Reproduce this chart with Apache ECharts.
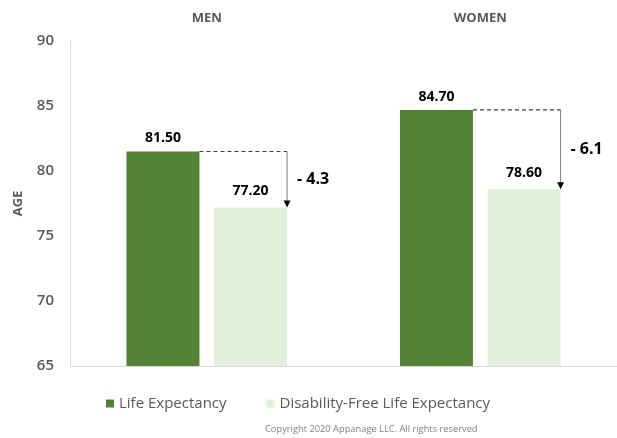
<!DOCTYPE html>
<html>
<head>
<meta charset="utf-8">
<script src="https://cdn.jsdelivr.net/npm/echarts@6/dist/echarts.min.js"></script>
<style>html,body{margin:0;padding:0;background:#fff}#c{width:617px;height:438px}</style>
</head>
<body>
<div id="c"></div>
<script>
const categories = ['MEN', 'WOMEN'];
const lifeExpectancy = [81.5, 84.7];
const disabilityFree = [77.2, 78.6];
const yTicks = [65, 70, 75, 80, 85, 90];
const seriesNames = ['Life Expectancy', 'Disability-Free Life Expectancy'];

const FONT = 'Open Sans, Lato, sans-serif';
const BAR_W = 73;
const GAP_RATIO = 0.2;
const chart = echarts.init(document.getElementById('c'));

const annoData = categories.map((c, i) => [i, lifeExpectancy[i], disabilityFree[i]]);

chart.setOption({
  animation: false,
  backgroundColor: '#fff',
  textStyle: { fontFamily: FONT },
  grid: { left: 70, right: 0, top: 41, bottom: 72 },
  legend: {
    bottom: 22, left: 101,
    itemWidth: 8, itemHeight: 8, itemGap: 40,
    icon: 'rect',
    textStyle: { fontFamily: FONT, fontSize: 15, color: '#595959' },
    data: seriesNames
  },
  graphic: [{
    type: 'text', left: 265, top: 425,
    style: { text: 'Copyright 2020 Appanage LLC. All rights reserved', fontSize: 9.3, fill: '#7f7f7f', fontFamily: FONT }
  }],
  xAxis: [{
    type: 'category', data: categories, position: 'top',
    axisLine: { show: false }, axisTick: { show: false },
    axisLabel: { fontSize: 13, fontWeight: 'bold', color: '#595959', margin: 16, fontFamily: FONT }
  }, {
    type: 'category', data: categories, position: 'bottom',
    axisLine: { show: true, lineStyle: { color: '#d9d9d9' } },
    axisTick: { show: false }, axisLabel: { show: false }
  }],
  yAxis: {
    type: 'value', min: yTicks[0], max: yTicks[yTicks.length - 1], interval: 5,
    name: 'AGE', nameLocation: 'middle', nameGap: 45, nameRotate: 90,
    nameTextStyle: { fontSize: 13, fontWeight: 'bold', color: '#595959', fontFamily: FONT },
    axisLine: { show: true, lineStyle: { color: '#d9d9d9' } },
    axisTick: { show: false },
    splitLine: { show: false },
    axisLabel: { fontSize: 15, fontWeight: 600, color: '#595959', margin: 16, fontFamily: FONT }
  },
  series: [{
    name: seriesNames[0], type: 'bar', data: lifeExpectancy,
    barWidth: BAR_W, barGap: (GAP_RATIO * 100) + '%',
    itemStyle: { color: '#548235' },
    label: { show: true, position: 'top', distance: 6, formatter: p => p.value.toFixed(2),
      fontSize: 14, fontWeight: 'bold', color: '#000', fontFamily: FONT }
  }, {
    name: seriesNames[1], type: 'bar', data: disabilityFree,
    barWidth: BAR_W,
    itemStyle: { color: '#e2efda' },
    label: { show: true, position: 'top', distance: 9, formatter: p => p.value.toFixed(2),
      fontSize: 14, fontWeight: 'bold', color: '#000', fontFamily: FONT }
  }, {
    type: 'custom', xAxisIndex: 0, data: annoData, silent: true, z: 10,
    renderItem: function (params, api) {
      const i = api.value(0);
      const top = api.coord([i, api.value(1)]);
      const low = api.coord([i, api.value(2)]);
      const gap = BAR_W * GAP_RATIO;
      const total = 2 * BAR_W + gap;
      const cx = top[0];
      const darkRight = cx - total / 2 + BAR_W;
      const ax = cx + total / 2;
      const diff = (api.value(1) - api.value(2)).toFixed(1);
      return {
        type: 'group',
        children: [{
          type: 'line',
          shape: { x1: darkRight, y1: top[1], x2: ax, y2: top[1] },
          style: { stroke: '#404040', lineWidth: 1.2, lineDash: [4, 3] }
        }, {
          type: 'line',
          shape: { x1: ax, y1: top[1], x2: ax, y2: low[1] - 6 },
          style: { stroke: '#7f7f7f', lineWidth: 1 }
        }, {
          type: 'polygon',
          shape: { points: [[ax - 3.5, low[1] - 7], [ax + 3.5, low[1] - 7], [ax, low[1]]] },
          style: { fill: '#000' }
        }, {
          type: 'text',
          x: ax + 10, y: (top[1] + low[1]) / 2,
          style: { text: '- ' + diff, fontSize: 16, fontWeight: 'bold', fill: '#000',
            fontFamily: FONT, verticalAlign: 'middle', align: 'left' }
        }]
      };
    }
  }]
});
</script>
</body>
</html>
